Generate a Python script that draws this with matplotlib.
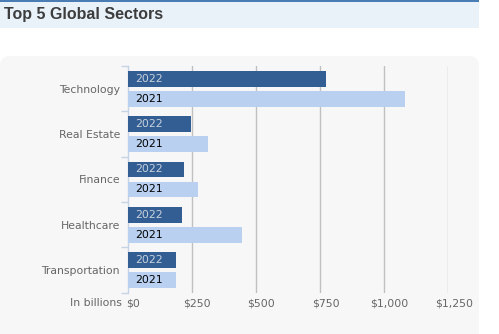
import numpy as np
import matplotlib.pyplot as plt
from matplotlib.patches import Rectangle, FancyBboxPatch
import matplotlib.transforms as mtransforms

# data (billions of dollars)
sectors = ['Technology', 'Real Estate', 'Finance', 'Healthcare', 'Transportation']
vals_2022 = [775, 245, 220, 210, 190]
vals_2021 = [1080, 315, 275, 445, 190]
xticks = [0, 250, 500, 750, 1000, 1250]
xtick_labels = ['$0', '$250', '$500', '$750', '$1,000', '$1,250']

W, H = 499, 334
fig = plt.figure(figsize=(W/100, H/100), dpi=100)
fig.patch.set_facecolor('white')

#header band and panel, drawn in figure pixels
def px(x, y, w, h):
    return (x/W, 1-(y+h)/H, w/W, h/H)

bx, by, bw, bh = px(0, 0, 479, 28)
fig.patches.append(Rectangle((bx, by), bw, bh, transform=fig.transFigure,
                             facecolor='#e9f1f9', edgecolor='none', zorder=-2))
bx, by, bw, bh = px(0, 0, 479, 2)
fig.patches.append(Rectangle((bx, by), bw, bh, transform=fig.transFigure,
                             facecolor='#4a7db3', edgecolor='none', zorder=-1))
bx, by, bw, bh = px(0, 56, 479, 300)
fig.patches.append(FancyBboxPatch((bx, by), bw, bh, transform=fig.transFigure,
                                  boxstyle='round,pad=0,rounding_size=0.02',
                                  mutation_aspect=W/H,
                                  facecolor='#f7f7f7', edgecolor='none', zorder=-2))

fig.text(4/W, 1-14/H, 'Top 5 Global Sectors', fontsize=11.5, fontweight='bold',
         family='Liberation Sans', color='#3d3d3d', ha='left', va='center')

left, right, top, bottom = 127.7, 448.3, 66, 292.7
ax = fig.add_axes([left/W, 1-bottom/H, (right-left)/W, (bottom-top)/H])
ax.set_facecolor('none')
ax.set_zorder(5)

fs = 7.8
y = np.arange(len(sectors))
h = 0.345
ax.barh(y-0.218, vals_2022, height=h, color='#335e93', zorder=3)
ax.barh(y+0.222, vals_2021, height=h, color='#b9d0f1', zorder=3)

off = mtransforms.offset_copy(ax.transData, fig=fig, x=7.5, y=0, units='dots')
for i in range(len(sectors)):
    ax.text(0, y[i]-0.218, '2022', transform=off, fontsize=fs, color='#c9d2de',
            ha='left', va='center', zorder=4)
    ax.text(0, y[i]+0.222, '2021', transform=off, fontsize=fs, color='black',
            ha='left', va='center', zorder=4)

ax.set_xlim(0, 1250)
ax.set_ylim(len(sectors)-0.5, -0.5)

for xv in xticks[1:]:
    ax.axvline(xv, color='#c0c0c0', lw=1, zorder=1)

for s in ['top', 'right', 'bottom']:
    ax.spines[s].set_visible(False)
ax.spines['left'].set_color('#c5d3e6')
ax.spines['left'].set_linewidth(1)

# category ticks on band edges
ax.set_yticks(np.arange(len(sectors)+1)-0.5, minor=False)
ax.set_yticklabels([])
ax.tick_params(axis='y', which='major', length=5, color='#c5d3e6', width=1)
ax.set_yticks(y, minor=True)
ax.set_yticklabels(sectors, minor=True)
ax.tick_params(axis='y', which='minor', length=0, pad=5.5, labelsize=fs,
               labelcolor='#666666')

ax.set_xticks(xticks)
ax.set_xticklabels(xtick_labels)
ax.tick_params(axis='x', length=0, pad=4, labelsize=fs, labelcolor='#666666')
shift = mtransforms.ScaledTranslation(5.5/100, 0, fig.dpi_scale_trans)
for lab in ax.get_xticklabels():
    lab.set_transform(lab.get_transform() + shift)

fig.text(122/W, 1-302.5/H, 'In billions', fontsize=fs, color='#666666',
         ha='right', va='center')

fig.savefig('out.png', dpi=100)
